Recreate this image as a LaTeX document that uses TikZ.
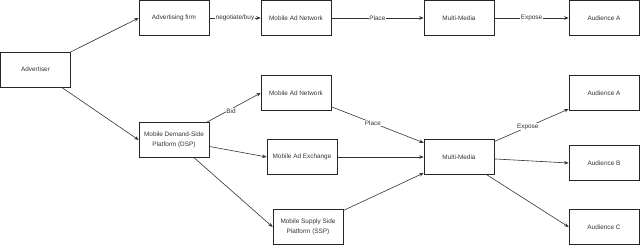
\documentclass[tikz,border=0pt]{standalone}
\usepackage{fontspec}
\setmainfont{Liberation Sans}
\usepackage{tikz}
\usetikzlibrary{arrows.meta,positioning,calc}

\begin{document}
\begin{tikzpicture}[
  x=1pt,y=-1pt,
  box/.style={rectangle,draw=black!85,line width=0.6pt,minimum width=70pt,minimum height=35pt,inner sep=1pt,align=center,text=black!80,font=\fontsize{6.4}{9.5}\selectfont},
  lbl/.style={fill=white,inner sep=0.6pt,text=black!80,font=\fontsize{6.4}{7.5}\selectfont},
  arr/.style={-{Stealth[length=4.5pt,width=3.5pt]},draw=black!80,line width=0.6pt}
]
  \useasboundingbox (0,0) rectangle (640,245);
  % upper chain
  \node[box] (adv)   at (35.5,69.5) {Advertiser};
  \node[box] (firm)  at (174,18)   {Advertising firm};
  \node[box] (man1)  at (296,18)   {Mobile Ad Network};
  \node[box] (mm1)   at (459,18)   {Multi-Media};
  \node[box] (audA1) at (604,18)   {Audience A};
  % lower chain
  \node[box] (dsp)   at (174,140)  {Mobile Demand-Side\\Platform (DSP)};
  \node[box] (man2)  at (296,93)   {Mobile Ad Network};
  \node[box] (mae)   at (302,157)  {Mobile Ad Exchange};
  \node[box] (ssp)   at (308,227)  {Mobile Supply Side\\Platform (SSP)};
  \node[box] (mm2)   at (459,157)  {Multi-Media};
  \node[box] (audA2) at (604,93)   {Audience A};
  \node[box] (audB)  at (604,163)  {Audience B};
  \node[box] (audC)  at (604,227)  {Audience C};
  \draw[arr] (adv) -- (firm.west);
  \draw[arr] (adv) -- (dsp.west);
  \draw[arr] (firm) -- node[lbl]{negotiate/buy} (man1);
  \draw[arr] (man1) -- node[lbl]{Place} (mm1);
  \draw[arr] (mm1) -- node[lbl]{Expose} (audA1);
  \draw[arr] (dsp) -- node[lbl,pos=0.45,yshift=-2pt]{Bid} (man2.west);
  \draw[arr] (dsp) -- (mae.west);
  \draw[arr] (dsp) -- (ssp.west);
  \draw[arr] (man2) -- node[lbl,pos=0.45]{Place} ($(mm2.north west)!0.1!(mm2.south west)$);
  \draw[arr] (mae) -- (mm2.west);
  \draw[arr] (ssp) -- ($(mm2.north west)!0.95!(mm2.south west)$);
  \draw[arr] (mm2) -- node[lbl,pos=0.45]{Expose} ($(audA2.north west)!0.95!(audA2.south west)$);
  \draw[arr] (mm2) -- (audB.west);
  \draw[arr] (mm2) -- (audC.west);
\end{tikzpicture}
\end{document}
